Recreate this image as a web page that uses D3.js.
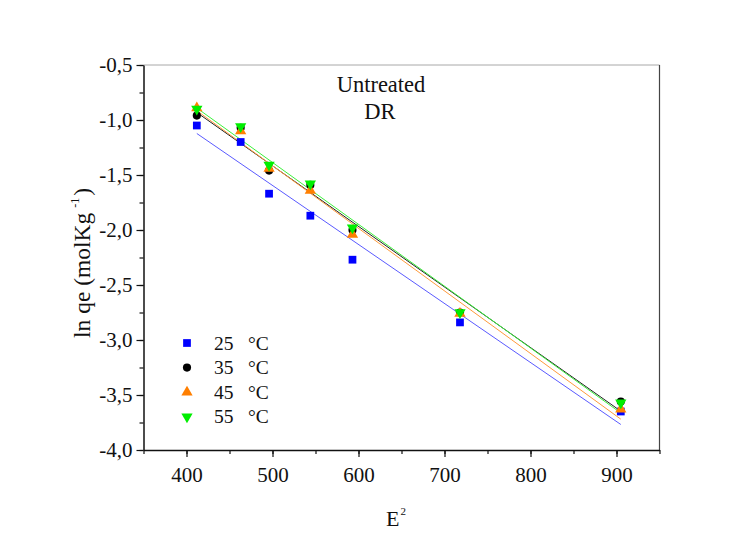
<!DOCTYPE html>
<html>
<head>
<meta charset="utf-8">
<script src="https://cdn.jsdelivr.net/npm/d3@7"></script>
<style>
  html, body { margin: 0; padding: 0; background: #fff; }
  svg { display: block; }
  svg text { font-family: "Liberation Serif", Tinos, "Times New Roman", Times, serif !important; fill: #111; }
</style>
</head>
<body>
<svg id="chart" width="748" height="533"></svg>
<script>
// Squared Polanyi potential (E^2) against ln qe for four temperatures
const e2 = [412, 463, 496, 544, 593, 718, 905];
const lnq25 = [-1.05, -1.20, -1.67, -1.87, -2.27, -2.84, -3.65];
const lnq35 = [-0.96, -1.07, -1.46, -1.59, -2.00, -2.75, -3.56];
const lnq45 = [-0.89, -1.10, -1.44, -1.64, -2.04, -2.76, -3.63];
const lnq55 = [-0.90, -1.06, -1.41, -1.58, -1.98, -2.75, -3.57];
const seriesNames = ["25", "35", "45", "55"];
const xTicks = [400, 500, 600, 700, 800, 900];
const yTicks = [-4.0, -3.5, -3.0, -2.5, -2.0, -1.5, -1.0, -0.5];

const series = [
  { name: seriesNames[0], y: lnq25, symbol: d3.symbolSquare,   size: 60, fill: "#0000ff", line: "#5a5aff" },
  { name: seriesNames[1], y: lnq35, symbol: d3.symbolCircle,   size: 52, fill: "#000000", line: "#222222" },
  { name: seriesNames[2], y: lnq45, symbol: d3.symbolTriangle, size: 55, fill: "#ff7f00", line: "#ff9a3c" },
  { name: seriesNames[3], y: lnq55, symbol: d3.symbolTriangle, size: 55, fill: "#00ee00", line: "#3cf03c", flip: true }
];

const svg = d3.select("#chart");
const L = 143.5, R = 659.5, T = 65, B = 450;

const x = d3.scaleLinear().domain([350, 950]).range([L, R]);
const y = d3.scaleLinear().domain([-4.0, -0.5]).range([B, T]);

// frame: top and right borders
svg.append("line").attr("x1", L).attr("x2", R).attr("y1", T).attr("y2", T)
  .attr("stroke", "#a8a8a8").attr("stroke-width", 1);
svg.append("line").attr("x1", R).attr("x2", R).attr("y1", T).attr("y2", B)
  .attr("stroke", "#444").attr("stroke-width", 1.2);

const fmt = d => d3.format(".1f")(d).replace(".", ",").replace("−", "-");

// bottom axis with minor ticks
const xMinor = d3.range(350, 951, 50);
svg.append("g").attr("transform", `translate(0,${B})`)
  .call(d3.axisBottom(x).tickValues(xMinor).tickSize(4).tickFormat(""))
  .call(g => g.select(".domain").remove())
  .selectAll("line").attr("stroke", "#111").attr("stroke-width", 1.2);
const gx = svg.append("g").attr("transform", `translate(0,${B})`)
  .call(d3.axisBottom(x).tickValues(xTicks).tickSize(7).tickPadding(10).tickSizeOuter(0));
gx.select(".domain").attr("stroke", "#111").attr("stroke-width", 1.5);
gx.selectAll("line").attr("stroke", "#111").attr("stroke-width", 1.2);
gx.selectAll("text").attr("font-size", 21).attr("fill", "#111");

// left axis with minor ticks
const yMinor = d3.range(-4.0, -0.49, 0.25);
svg.append("g").attr("transform", `translate(${L},0)`)
  .call(d3.axisLeft(y).tickValues(yMinor).tickSize(4).tickFormat(""))
  .call(g => g.select(".domain").remove())
  .selectAll("line").attr("stroke", "#111").attr("stroke-width", 1.2);
const gy = svg.append("g").attr("transform", `translate(${L},0)`)
  .call(d3.axisLeft(y).tickValues(yTicks).tickSize(7).tickPadding(4).tickSizeOuter(0).tickFormat(fmt));
gy.select(".domain").attr("stroke", "#111").attr("stroke-width", 1.5);
gy.selectAll("line").attr("stroke", "#111").attr("stroke-width", 1.2);
gy.selectAll("text").attr("font-size", 21).attr("fill", "#111");

// least-squares fit lines
function fit(xs, ys) {
  const mx = d3.mean(xs), my = d3.mean(ys);
  let sxy = 0, sxx = 0;
  xs.forEach((v, i) => { sxy += (v - mx) * (ys[i] - my); sxx += (v - mx) * (v - mx); });
  const b = sxy / sxx, a = my - b * mx;
  return v => a + b * v;
}
const xExt = d3.extent(e2);
series.forEach(s => {
  const f = fit(e2, s.y);
  svg.append("line")
    .attr("x1", x(xExt[0])).attr("y1", y(f(xExt[0])))
    .attr("x2", x(xExt[1])).attr("y2", y(f(xExt[1])))
    .attr("stroke", s.line).attr("stroke-width", 1);
});

// markers
series.forEach(s => {
  const sym = d3.symbol().type(s.symbol).size(s.size);
  svg.append("g").selectAll("path").data(e2).join("path")
    .attr("d", sym)
    .attr("transform", (d, i) => `translate(${x(d)},${y(s.y[i])})${s.flip ? " rotate(180)" : ""}`)
    .attr("fill", s.fill);
});

// legend
const lg = svg.append("g");
series.forEach((s, i) => {
  const yy = 343 + i * 24.6;
  const sym = d3.symbol().type(s.symbol).size(s.size);
  lg.append("path").attr("d", sym)
    .attr("transform", `translate(187,${yy})${s.flip ? " rotate(180)" : ""}`)
    .attr("fill", s.fill);
  lg.append("text").attr("x", 214).attr("y", yy + 6.5).attr("font-size", 19.5).text(s.name);
  lg.append("text").attr("x", 248).attr("y", yy + 6.5).attr("font-size", 19.5).text("°C");
});

// annotation
svg.append("text").attr("x", 381).attr("y", 91.5).attr("text-anchor", "middle")
  .attr("font-size", 22.5).text("Untreated");
svg.append("text").attr("x", 380).attr("y", 119).attr("text-anchor", "middle")
  .attr("font-size", 22.5).text("DR");

// axis titles
const xt = svg.append("text").attr("x", 386).attr("y", 526).attr("font-size", 22);
xt.append("tspan").text("E");
xt.append("tspan").attr("font-size", 11).attr("dx", 1).attr("dy", -11).text("2");

const yt = svg.append("text").attr("transform", "translate(90,338) rotate(-90)")
  .attr("text-anchor", "start").attr("font-size", 23.5);
yt.append("tspan").text("ln qe (molKg");
yt.append("tspan").attr("font-size", 12).attr("dx", 5).attr("dy", -11).text("-1");
yt.append("tspan").attr("dx", 2).attr("dy", 11).text(")");
</script>
</body>
</html>
